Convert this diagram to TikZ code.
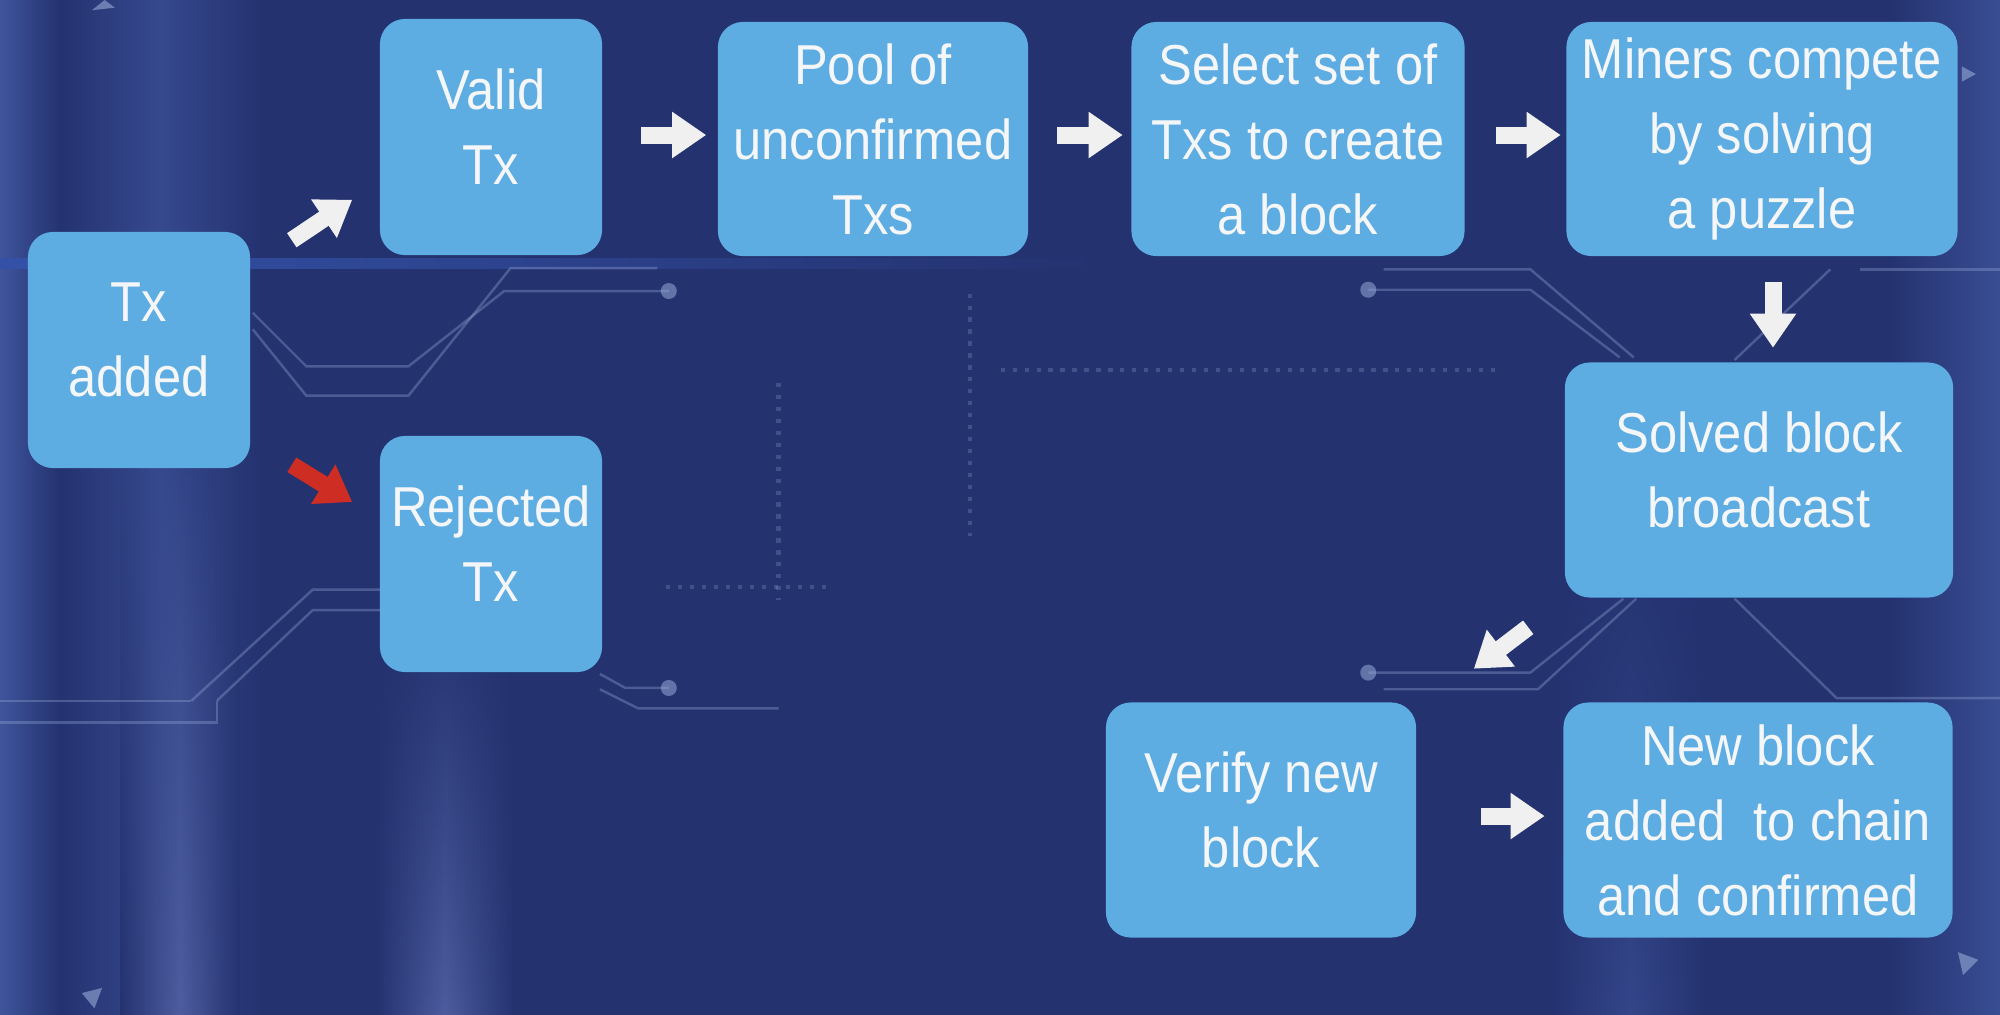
\documentclass[tikz,border=0pt]{standalone}
\usepackage{fontspec}
\setmainfont{Liberation Sans}[FakeStretch=0.9]
\usetikzlibrary{arrows.meta,calc,fadings}
\definecolor{bg}{RGB}{36,50,112}
\definecolor{bgl}{RGB}{72,96,170}
\definecolor{stripe}{RGB}{78,94,160}
\definecolor{band}{RGB}{52,82,168}
\definecolor{boxc}{RGB}{93,172,226}
\definecolor{txt}{RGB}{244,246,248}
\definecolor{redarr}{RGB}{205,45,35}
\definecolor{circ}{RGB}{150,170,215}
\definecolor{arrw}{RGB}{240,240,240}
\newcommand\dstrut{\rule[-0.2cm]{0pt}{0.2cm}}
\begin{document}
\begin{tikzpicture}[x=0.01cm,y=-0.01cm,
 stepbox/.style={fill=boxc, rounded corners=0.25cm, inner sep=0pt, align=center, text=txt,
   font=\fontsize{16}{21.3}\selectfont},
 fat/.style={draw=arrw, line width=0.17cm, -{Triangle[length=0.34cm,width=0.44cm]}},
 redfat/.style={fat, draw=redarr},
 trace/.style={draw=circ, opacity=0.35, line width=0.7pt},
 dotline/.style={draw=circ, opacity=0.25, line width=1.2pt, dash pattern=on 1.2pt off 2.2pt},
 tdot/.style={circle, fill=circ, opacity=0.55, inner sep=0pt, minimum size=0.16cm},
 corner/.style={fill=circ, opacity=0.6}]
\useasboundingbox (0,0) rectangle (2000,1014);
% background
\fill[bg] (-20,-20) rectangle (2020,1034);
\shade[left color=bgl, right color=bg] (-20,-20) rectangle (60,1034);
\shade[left color=bg, right color=bg, middle color=bgl!50!bg] (60,-20) rectangle (260,1034);
\shade[left color=bg, right color=bg, middle color=stripe, path fading=north] (120,450) rectangle (240,1034);
\shade[left color=bg, right color=bg, middle color=stripe, path fading=north] (375,600) rectangle (515,1034);
\shade[left color=bg, right color=bg, middle color=bgl!45!bg, path fading=north] (1550,500) rectangle (1710,1034);
\shade[left color=bg, right color=bgl!70!bg] (1890,-20) rectangle (2020,1034);
\shade[left color=band, right color=bg] (-20,258) rectangle (1100,268);
\begin{scope}[x=0.012755cm,y=-0.012755cm]
 \draw[trace] (198,245) -- (240,287) -- (320,287) -- (395,228) -- (524,228);
 \draw[trace] (198,258) -- (240,310) -- (320,310) -- (400,210) -- (515,210);
 \draw[trace] (150,549) -- (245,462) -- (299,462);
 \draw[trace] (170,549) -- (245,478) -- (299,478);
 \draw[trace] (0,549) -- (150,549);
 \draw[trace] (0,566) -- (170,566) -- (170,549);
 \draw[trace] (470,528) -- (490,539) -- (524,539);
 \draw[trace] (470,540) -- (500,555) -- (610,555);
 \node[tdot] at (524,228) {};
 \node[tdot] at (524,539) {};
 \draw[trace] (1072,227) -- (1199,227) -- (1269,280);
 \draw[trace] (1084,211) -- (1199,211) -- (1280,280);
 \draw[trace] (1434,211) -- (1359,282);
 \draw[trace] (1457,211) -- (1568,211);
 \draw[trace] (1072,527) -- (1199,527) -- (1272,469);
 \draw[trace] (1084,540) -- (1205,540) -- (1282,469);
 \draw[trace] (1359,469) -- (1439,547) -- (1568,547);
 \node[tdot] at (1072,227) {};
 \node[tdot] at (1072,527) {};
 \draw[dotline] (784,290) -- (1174,290);
 \draw[dotline] (522,460) -- (650,460);
 \draw[dotline] (610,300) -- (610,470);
 \draw[dotline] (760,230) -- (760,420);
 \fill[corner] (72,8) -- (82,0) -- (90,6) -- cycle;
 \fill[corner] (64,778) -- (80,774) -- (74,790) -- cycle;
 \fill[corner] (1534,746) -- (1550,752) -- (1538,764) -- cycle;
 \fill[corner] (1537,52) -- (1548,58) -- (1537,64) -- cycle;
\end{scope}
% boxes
\node[stepbox, minimum width=2.22cm, minimum height=2.36cm] (tx) at (139,350) {Tx\\added\dstrut};
\node[stepbox, minimum width=2.22cm, minimum height=2.36cm] (valid) at (491,137) {Valid\\Tx\dstrut};
\node[stepbox, minimum width=2.22cm, minimum height=2.36cm] (rej) at (491,554) {Rejected\\Tx\dstrut};
\node[stepbox, minimum width=3.10cm, minimum height=2.34cm] (pool) at (873,139) {Pool of\\unconfirmed\\Txs};
\node[stepbox, minimum width=3.33cm, minimum height=2.34cm] (select) at (1298,139) {Select set of\\Txs to create\\a block};
\node[stepbox, minimum width=3.91cm, minimum height=2.34cm] (miners) at (1762,139) {Miners compete\\by solving\\a puzzle};
\node[stepbox, minimum width=3.88cm, minimum height=2.35cm] (solved) at (1759,480) {Solved block\\broadcast\dstrut};
\node[stepbox, minimum width=3.10cm, minimum height=2.35cm] (verify) at (1261,820) {Verify new\\block\dstrut};
\node[stepbox, minimum width=3.89cm, minimum height=2.35cm] (newb) at (1758,820) {New block\\added\ \ to chain\\and confirmed};
% arrows
\draw[fat] ($(tx.north east)+(41,9)$) -- ($(valid.south west)+(-27,-56)$);
\draw[redfat] ($(tx.south east)+(41,-4)$) -- ($(rej.west)+(-27,-52)$);
\draw[fat, shorten <=0.38cm, shorten >=0.11cm] ([yshift=0.02cm]valid.east) -- ([yshift=0.02cm]valid.east -| pool.west);
\draw[fat, shorten <=0.28cm, shorten >=0.08cm] ([yshift=0.04cm]pool.east) -- ([yshift=0.04cm]pool.east -| select.west);
\draw[fat, shorten <=0.31cm, shorten >=0.05cm] ([yshift=0.04cm]select.east) -- ([yshift=0.04cm]select.east -| miners.west);
\draw[fat, shorten <=0.25cm, shorten >=0.14cm] ([xshift=0.11cm]miners.south) -- ([xshift=0.11cm]miners.south |- solved.north);
\draw[fat] ($(solved.south west)+(-36,29)$) -- ($(verify.north east)+(57,-33)$);
\draw[fat, shorten <=0.64cm, shorten >=0.18cm] ([yshift=0.04cm]verify.east) -- ([yshift=0.04cm]verify.east -| newb.west);
\end{tikzpicture}
\end{document}
